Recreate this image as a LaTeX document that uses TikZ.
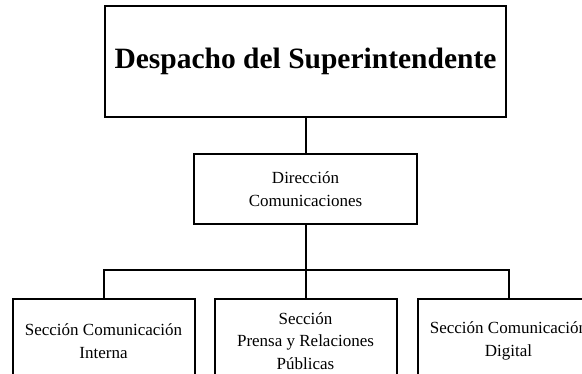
\documentclass[tikz,border=0pt]{standalone}
\usepackage{fontspec}
\setmainfont{Liberation Serif}
\usetikzlibrary{positioning}

\begin{document}
\begin{tikzpicture}[x=1pt, y=1pt, line width=2pt, main/.style = {draw, inner sep=0pt, align=center, font=\fontsize{17}{22.5}\selectfont}]
        \clip (0,0) rectangle (582,-374);
        \node[main, minimum width=401pt, minimum height=111pt, font=\fontsize{29.5}{35}\selectfont\bfseries] (dsp) at (305.5,-61.5) {Despacho del Superintendente};
        \node[main, minimum width=223pt, minimum height=70pt] (dir) [below=35pt of dsp] {Direcci\'on\\Comunicaciones};
        \coordinate[below=45pt of dir] (bus);
        
        \node[main, minimum width=182pt, minimum height=84pt] (sec2) [below=73pt of dir] {Secci\'on\\Prensa y Relaciones\\P\'ublicas};
        \node[main, minimum width=182pt, minimum height=84pt] (sec1) [left=18pt of sec2] {Secci\'on Comunicaci\'on\\Interna};
        \node[main, minimum width=182pt, minimum height=84pt] (sec3) [right=19pt of sec2] {Secci\'on Comunicaci\'on\\Digital};
        
        \draw (dsp) -- (dir);
        \draw (dir) -- (bus);
        \draw (bus) -| (sec1.north);
        \draw (bus) -- (sec2.north);
        \draw (bus) -| (sec3.north);
    \end{tikzpicture}
\end{document}
